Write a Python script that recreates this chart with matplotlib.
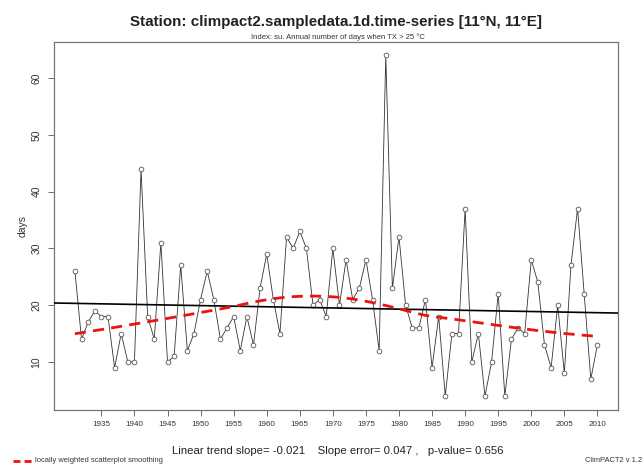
import numpy as np
import matplotlib
matplotlib.use("Agg")
import matplotlib.pyplot as plt

plt.rcParams['font.family'] = ['Liberation Sans', 'DejaVu Sans']

years = list(range(1931, 2011))
su_days = [26, 14, 17, 19, 18, 18, 9, 15, 10, 10,
           44, 18, 14, 31, 10, 11, 27, 12, 15, 21,
           26, 21, 14, 16, 18, 12, 18, 13, 23, 29,
           21, 15, 32, 30, 33, 30, 20, 21, 18, 30,
           20, 28, 21, 23, 28, 21, 12, 64, 23, 32,
           20, 16, 16, 21, 9, 18, 4, 15, 15, 37,
           10, 15, 4, 10, 22, 4, 14, 16, 15, 28,
           24, 13, 9, 20, 8, 27, 37, 22, 7, 13]
x_ticks = list(range(1935, 2011, 5))
y_ticks = [10, 20, 30, 40, 50, 60]

title = "Station: climpact2.sampledata.1d.time-series [11\u00b0N, 11\u00b0E]"
subtitle = "Index: su. Annual number of days when TX > 25 \u00b0C"
ylabel = "days"
legend_label = "locally weighted scatterplot smoothing"
credit = "ClimPACT2 v 1.2"


def lowess(x, y, f=2 / 3, iters=3):
    x = np.asarray(x, float)
    y = np.asarray(y, float)
    n = len(x)
    ns = max(2, min(n, int(f * n + 1e-7)))
    rw = np.ones(n)
    fit = np.zeros(n)
    for it in range(iters + 1):
        for i in range(n):
            d = np.abs(x - x[i])
            h = np.sort(d)[ns - 1]
            w = np.clip(d / h, 0, 1)
            w = (1 - w ** 3) ** 3 * rw
            sw = w.sum()
            xm = (w * x).sum() / sw
            ym = (w * y).sum() / sw
            sxx = (w * (x - xm) ** 2).sum()
            b = (w * (x - xm) * (y - ym)).sum() / sxx if sxx > 0 else 0
            fit[i] = ym + b * (x[i] - xm)
        res = y - fit
        s = np.median(np.abs(res))
        u = np.clip(res / (6 * s), -1, 1)
        rw = (1 - u ** 2) ** 2
    return fit


xa = np.array(years, float)
ya = np.array(su_days, float)
slope, intercept = np.polyfit(xa, ya, 1)
smooth = lowess(xa, ya)

fig = plt.figure(figsize=(6.43, 4.65), dpi=100)
ax = fig.add_axes([0.084, 0.119, 0.8776, 0.7913])

ax.plot(xa, ya, color='#333333', lw=0.6, zorder=2)
ax.plot(xa, ya, 'o', ms=3.4, mfc='white', mec='#555555', mew=0.6, zorder=3)
ax.axline((xa[0], intercept + slope * xa[0]), slope=slope, color='black', lw=1.2, zorder=4)
ax.plot(xa, smooth, color='#ee1111', lw=2.0, dashes=(4, 2.6), zorder=5)

span_x = xa.max() - xa.min()
span_y = ya.max() - ya.min()
ax.set_xlim(xa.min() - 0.04 * span_x, xa.max() + 0.04 * span_x)
ax.set_ylim(ya.min() - 0.04 * span_y, ya.max() + 0.04 * span_y)

ax.set_xticks(x_ticks)
ax.set_xticklabels([str(t) for t in x_ticks])
ax.set_yticks(y_ticks)
ax.set_yticklabels([str(t) for t in y_ticks], rotation=90, va='center')
ax.tick_params(axis='both', direction='out', length=4, width=0.6, color='#555555',
               labelcolor='#333333')
ax.tick_params(axis='x', labelsize=5.8, pad=4.5)
ax.tick_params(axis='y', labelsize=7.5, pad=5)
for sp in ax.spines.values():
    sp.set_color('#777777')
    sp.set_linewidth(0.9)
ax.set_ylabel(ylabel, fontsize=7.5, color='#333333', labelpad=3)

fig.text(0.522, 0.953, title, ha='center', va='center', fontsize=10.9, fontweight='bold', color='#222222')
fig.text(0.526, 0.921, subtitle, ha='center', va='center', fontsize=5.5, color='#333333')
fig.text(0.526, 0.030,
         "Linear trend slope= %.3f    Slope error= 0.047 ,   p-value= 0.656" % slope,
         ha='center', va='center', fontsize=8.2, color='#222222')

fig.add_artist(plt.Line2D([0.02, 0.05], [0.009, 0.009], color='#ee1111', lw=2.0,
                          dashes=(2.5, 1.5), transform=fig.transFigure))
fig.text(0.055, 0.003, legend_label, ha='left', va='bottom', fontsize=5.4, color='#333333')
fig.text(0.91, 0.003, credit, ha='left', va='bottom', fontsize=5.4, color='#333333')

fig.savefig('out.png', dpi=100)
